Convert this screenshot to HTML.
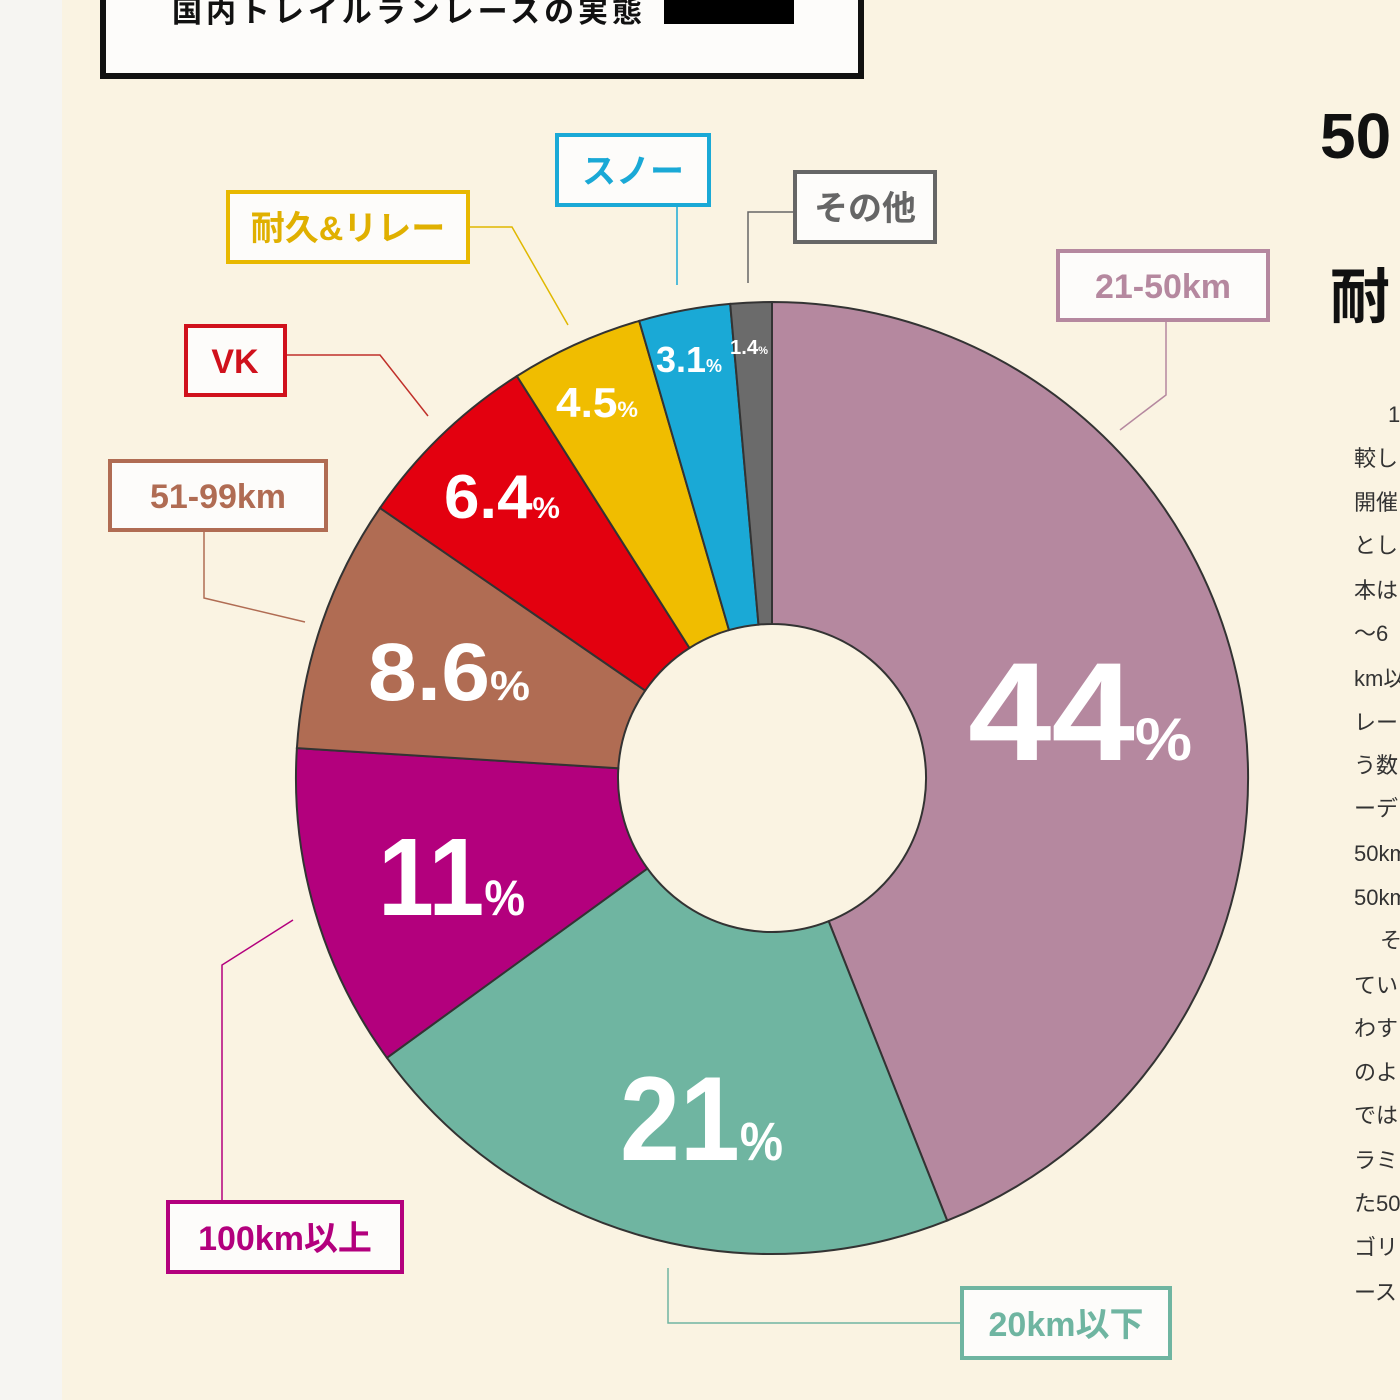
<!DOCTYPE html><html><head><meta charset="utf-8"><style>
body{margin:0;width:1400px;height:1400px;overflow:hidden;background:#faf3e2;font-family:"Liberation Sans","Noto Sans CJK JP",sans-serif}
</style></head><body>
<svg width="1400" height="1400" viewBox="0 0 1400 1400" xmlns="http://www.w3.org/2000/svg" style="position:absolute;left:0;top:0">
<rect x="0" y="0" width="62" height="1400" fill="#f6f5f2"/>
<rect x="103" y="-10" width="758" height="86" fill="#fdfcfa" stroke="#111" stroke-width="6"/>
<text x="172" y="22" font-size="30" font-weight="bold" fill="#111" font-family="Noto Sans CJK JP,sans-serif" textLength="470">国内トレイルランレースの実態</text>
<rect x="664" y="-4" width="130" height="28" fill="#000"/>
<g stroke="#333" stroke-width="2">
<path d="M772,302 A476,476 0 0 1 947.2,1220.6 L828.7,921.2 A154,154 0 0 0 772,624 Z" fill="#b5889f"/>
<path d="M947.2,1220.6 A476,476 0 0 1 386.9,1057.8 L647.4,868.5 A154,154 0 0 0 828.7,921.2 Z" fill="#6fb5a1"/>
<path d="M386.9,1057.8 A476,476 0 0 1 296.9,748.1 L618.3,768.3 A154,154 0 0 0 647.4,868.5 Z" fill="#b3007d"/>
<path d="M296.9,748.1 A476,476 0 0 1 380,508 L645.2,690.6 A154,154 0 0 0 618.3,768.3 Z" fill="#b06c53"/>
<path d="M380,508 A476,476 0 0 1 516.9,376.1 L689.5,648 A154,154 0 0 0 645.2,690.6 Z" fill="#e3000f"/>
<path d="M516.9,376.1 A476,476 0 0 1 639.2,320.9 L729,630.1 A154,154 0 0 0 689.5,648 Z" fill="#f0bd00"/>
<path d="M639.2,320.9 A476,476 0 0 1 730.2,303.9 L758.5,624.6 A154,154 0 0 0 729,630.1 Z" fill="#1aa9d6"/>
<path d="M730.2,303.9 A476,476 0 0 1 772,302 L772,624 A154,154 0 0 0 758.5,624.6 Z" fill="#6b6b6b"/>
</g>
<g fill="#fff" font-weight="bold" font-family="Liberation Sans,sans-serif">
<text x="968" y="760" font-size="140" textLength="224" lengthAdjust="spacingAndGlyphs">44<tspan font-size="60">%</tspan></text>
<text x="620" y="1160" font-size="120" textLength="163" lengthAdjust="spacingAndGlyphs">21<tspan font-size="54">%</tspan></text>
<text x="378" y="915" font-size="110" textLength="147" lengthAdjust="spacingAndGlyphs">11<tspan font-size="50">%</tspan></text>
<text x="368" y="700" font-size="82" textLength="162" lengthAdjust="spacingAndGlyphs">8.6<tspan font-size="42">%</tspan></text>
<text x="444" y="518" font-size="62" textLength="116" lengthAdjust="spacingAndGlyphs">6.4<tspan font-size="30">%</tspan></text>
<text x="556" y="417" font-size="42" textLength="82" lengthAdjust="spacingAndGlyphs">4.5<tspan font-size="22">%</tspan></text>
<text x="656" y="372" font-size="36" textLength="66" lengthAdjust="spacingAndGlyphs">3.1<tspan font-size="18">%</tspan></text>
<text x="730" y="354" font-size="20" textLength="38" lengthAdjust="spacingAndGlyphs">1.4<tspan font-size="11">%</tspan></text>
</g>
<g fill="none" stroke-width="1.5">
<path d="M1166,320 V395 L1120,430" stroke="#b5889f"/>
<path d="M962,1323 H668 V1268" stroke="#6fb5a1"/>
<path d="M222,1202 V965 L293,920" stroke="#b3007d"/>
<path d="M204,530 V598 L305,622" stroke="#b06c53"/>
<path d="M285,355 H380 L428,416" stroke="#c0302a"/>
<path d="M468,227 H512 L568,325" stroke="#e0b800"/>
<path d="M677,205 V285" stroke="#1aa9d6"/>
<path d="M795,212 H748 V283" stroke="#666"/>
</g>
<g stroke-width="4" fill="#fdfcfa">
<rect x="1058" y="251" width="210" height="69" stroke="#b5889f"/>
<rect x="962" y="1288" width="208" height="70" stroke="#6fb5a1"/>
<rect x="168" y="1202" width="234" height="70" stroke="#b3007d"/>
<rect x="110" y="461" width="216" height="69" stroke="#b06c53"/>
<rect x="186" y="326" width="99" height="69" stroke="#d0111c"/>
<rect x="228" y="192" width="240" height="70" stroke="#e8b800"/>
<rect x="557" y="135" width="152" height="70" stroke="#1aa9d6"/>
<rect x="795" y="172" width="140" height="70" stroke="#666"/>
</g>
<g font-weight="bold" font-size="34" text-anchor="middle" font-family="Liberation Sans,Noto Sans CJK JP,sans-serif">
<text x="1163" y="298" fill="#b5889f">21-50km</text>
<text x="1066" y="1336" fill="#6fb5a1">20km以下</text>
<text x="285" y="1250" fill="#b3007d">100km以上</text>
<text x="218" y="508" fill="#b06c53">51-99km</text>
<text x="235" y="373" fill="#d0111c">VK</text>
<text x="348" y="240" fill="#e0b000">耐久&amp;リレー</text>
<text x="633" y="183" fill="#1aa9d6">スノー</text>
<text x="865" y="220" fill="#666">その他</text>
</g>
<text x="1320" y="158" font-size="64" font-weight="bold" fill="#111">50</text>
<text x="1330" y="318" font-size="60" font-weight="bold" fill="#111" font-family="Noto Sans CJK JP,sans-serif">耐</text>
<g font-size="22" fill="#333" font-family="Liberation Sans,Noto Sans CJK JP,sans-serif">
<text x="1388" y="422">1</text><text x="1354" y="466">較し</text><text x="1354" y="510">開催</text><text x="1354" y="553">とし</text><text x="1354" y="598">本は</text><text x="1354" y="641">〜6</text><text x="1354" y="686">km以</text><text x="1354" y="730">レー</text><text x="1354" y="773">う数</text><text x="1354" y="816">ーデ</text><text x="1354" y="861">50km</text><text x="1354" y="905">50km</text><text x="1380" y="948">そ</text><text x="1354" y="993">てい</text><text x="1354" y="1036">わす</text><text x="1354" y="1080">のよ</text><text x="1354" y="1123">では</text><text x="1354" y="1168">ラミ</text><text x="1354" y="1211">た50</text><text x="1354" y="1255">ゴリ</text><text x="1354" y="1300">ース</text>
</g>
</svg>
</body></html>
